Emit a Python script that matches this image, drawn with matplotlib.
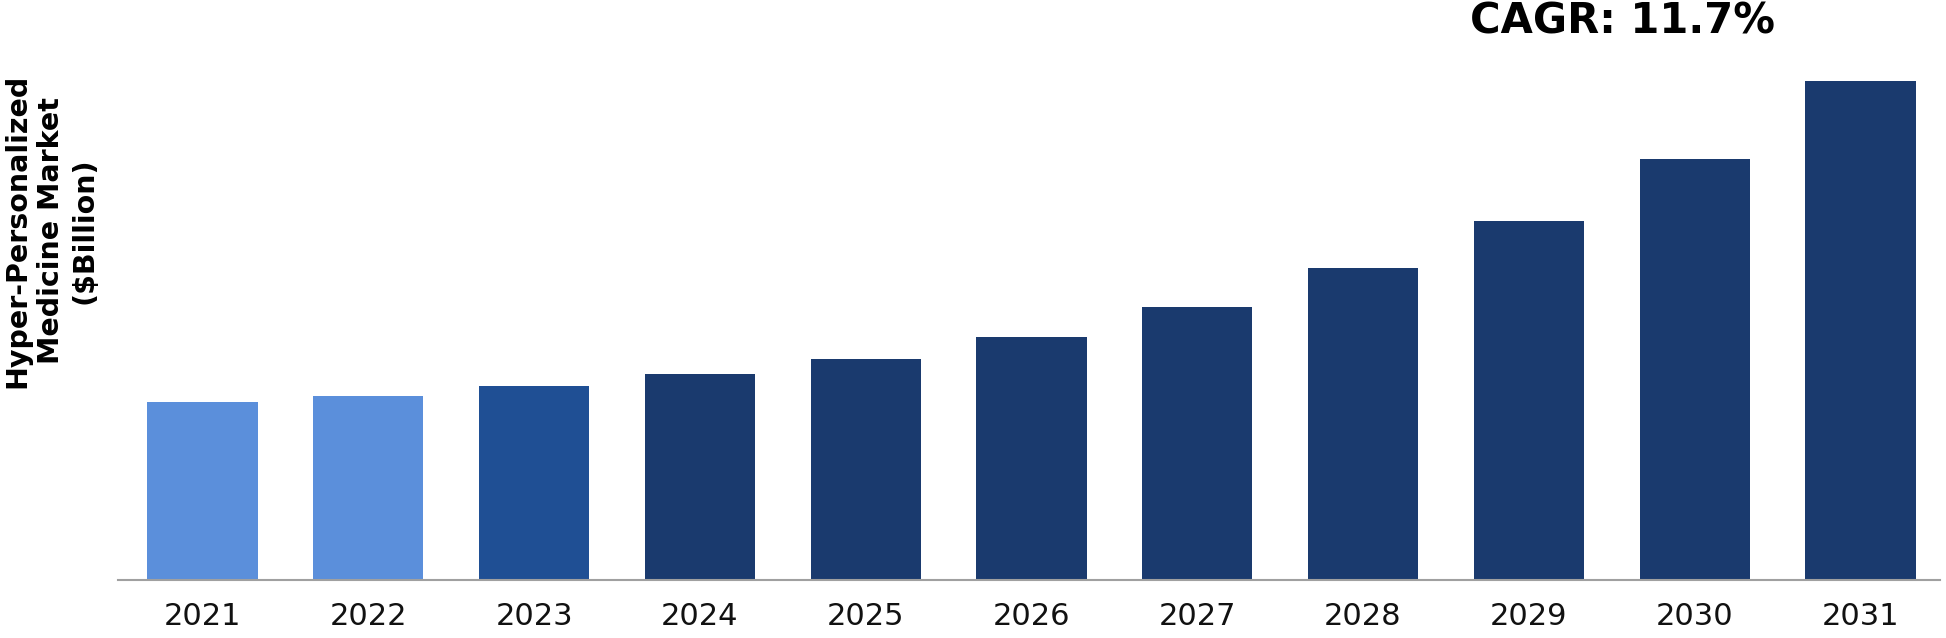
import matplotlib
matplotlib.use("Agg")
import matplotlib.pyplot as plt

# Market size per year (arbitrary units)
years = ['2021', '2022', '2023', '2024', '2025', '2026', '2027', '2028', '2029', '2030', '2031']
values = [14.3, 14.8, 15.6, 16.6, 17.8, 19.6, 22.0, 25.1, 28.9, 33.9, 40.2]
bar_colors = ['#5B8FDB', '#5B8FDB', '#1F4F94', '#1A3A6E', '#1A3A6E', '#1A3A6E',
              '#1A3A6E', '#1A3A6E', '#1A3A6E', '#1A3A6E', '#1A3A6E']

cagr_text = 'CAGR: 11.7%'
y_title = 'Hyper-Personalized\nMedicine Market\n($Billion)'

fig = plt.figure(figsize=(19.46, 6.38), dpi=100)
ax = fig.add_axes([118 / 1946, 1 - 580 / 638, (1940 - 118) / 1946, 580 / 638])

x = range(len(years))
ax.bar(x, values, width=0.665, color=bar_colors)

ax.set_xlim(-0.51, 10.48)
ax.set_ylim(0, 46.7)
ax.set_xticks(list(x))
ax.set_xticklabels(years, fontsize=22, color='#111111')
ax.tick_params(axis='x', length=0, pad=16)
ax.set_yticks([])

for side in ['top', 'right', 'left']:
    ax.spines[side].set_visible(False)
ax.spines['bottom'].set_color('#A0A0A0')
ax.spines['bottom'].set_linewidth(1.5)

# Headline and y title placed in figure coords
fig.text(1623 / 1946, 1 - 21 / 638, cagr_text, fontsize=30, fontweight='bold',
         ha='center', va='center')
fig.text(51 / 1946, 1 - 231 / 638, y_title, fontsize=20.5, fontweight='bold',
         rotation=90, ha='center', va='center', multialignment='center',
         linespacing=1.25)

fig.savefig('out.png', dpi=100)
